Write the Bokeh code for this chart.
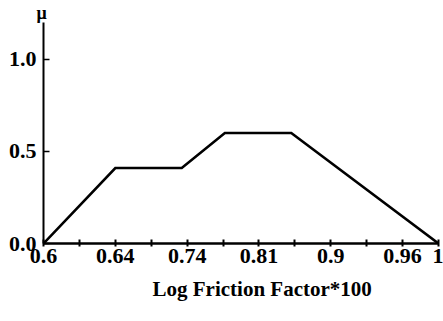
from bokeh.plotting import figure
from bokeh.models import Range1d, FixedTicker, Title
from bokeh.embed import file_html
from bokeh.resources import INLINE

# x axis is an ordinal position scale (tick index), labelled with friction values
tick_pos = list(range(12))
tick_labels = {0: "0.6", 2: "0.64", 4: "0.74", 6: "0.81", 8: "0.9", 10: "0.96", 11: "1"}

# membership curve vertices (x in tick-index units, mu)
curve_x = [0, 2, 3.85, 5.05, 6.9, 11]
curve_mu = [0.0, 0.41, 0.41, 0.6, 0.6, 0.0]

y_ticks = [0.0, 0.5, 1.0]

FONT = "Liberation Serif"

p = figure(width=443, height=321, output_backend="svg", toolbar_location=None,
           x_range=Range1d(0, 11), y_range=Range1d(0, 1.2),
           min_border_left=43, min_border_right=5, min_border_top=22, min_border_bottom=78)
p.outline_line_color = None
p.xgrid.visible = False
p.ygrid.visible = False
p.background_fill_color = "white"
p.border_fill_color = "white"

p.line(curve_x, curve_mu, line_color="black", line_width=2.6, line_join="miter")

xa = p.xaxis[0]
xa.ticker = FixedTicker(ticks=tick_pos, minor_ticks=[])
xa.major_label_overrides = {i: tick_labels.get(i, "") for i in tick_pos}
xa.major_tick_in = 4
xa.major_tick_out = 3
xa.major_tick_line_width = 2
xa.axis_line_width = 2.5
xa.major_label_standoff = 2
xa.major_label_text_font = FONT
xa.major_label_text_font_style = "bold"
xa.major_label_text_font_size = "22px"
xa.major_label_text_color = "black"

ya = p.yaxis[0]
ya.ticker = FixedTicker(ticks=y_ticks, minor_ticks=[])
ya.major_label_overrides = {0.0: "0.0", 0.5: "0.5", 1.0: "1.0"}
ya.major_tick_in = 6
ya.major_tick_out = 0
ya.major_tick_line_width = 1.5
ya.axis_line_width = 2
ya.major_label_standoff = 7
ya.major_label_text_font = FONT
ya.major_label_text_font_style = "bold"
ya.major_label_text_font_size = "22px"
ya.major_label_text_color = "black"

p.add_layout(Title(text="μ", text_font=FONT, text_font_style="bold",
                   text_font_size="18px", text_color="black", align="left",
                   offset=-7, standoff=0), "above")
p.add_layout(Title(text="Log Friction Factor*100", text_font=FONT, text_font_style="bold",
                   text_font_size="21px", text_color="black", align="left",
                   offset=109, standoff=18), "below")

open("out.html", "w").write(file_html(p, INLINE))
